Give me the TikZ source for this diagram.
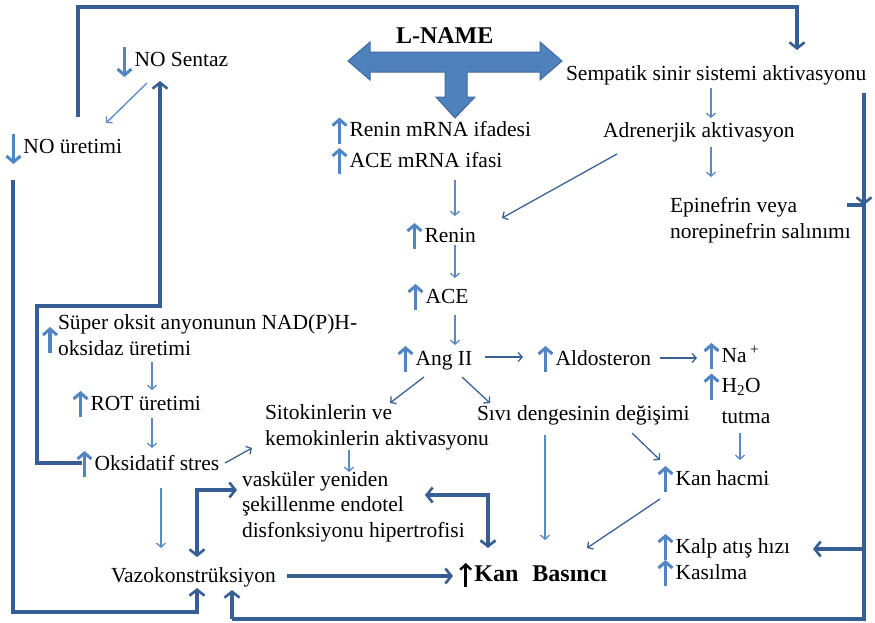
\documentclass[tikz,border=0pt]{standalone}
\usepackage{fontspec}
\setmainfont{Liberation Serif}
\usetikzlibrary{arrows.meta}
\definecolor{thk}{RGB}{55,94,146}
\definecolor{thl}{RGB}{88,138,198}
\definecolor{thd}{RGB}{58,98,150}
\definecolor{upc}{RGB}{80,132,195}
\definecolor{lnf}{RGB}{79,129,189}
\definecolor{lnd}{RGB}{62,106,160}
\newcommand\ua{\tikz[baseline=0pt,x=1pt,y=1pt]\draw[upc,line width=3.4pt,-{Straight Barb[length=6pt,width=14pt,line width=3pt]}](0,-7)--(0,19);\kern1.5pt}
\newcommand\da{\tikz[baseline=0pt,x=1pt,y=1pt]\draw[upc,line width=3.4pt,-{Straight Barb[length=6pt,width=14pt,line width=3pt]}](0,19)--(0,-11);\kern1.5pt}
\newcommand\uk{\tikz[baseline=0pt,x=1pt,y=1pt]\draw[black,line width=2.8pt,-{Straight Barb[length=5pt,width=11pt,line width=2.4pt]}](0,-6)--(0,18);\kern2pt}
\begin{document}
\begin{tikzpicture}[x=1pt,y=-1pt,
  tx/.style={font=\fontsize{21.5}{25.5}\selectfont, inner sep=0pt, outer sep=0pt, align=left, anchor=base west},
  ta/.style={thl, line width=1.3pt, -{Straight Barb[length=4pt,width=9pt]}},
  tb/.style={thd, line width=1.3pt, -{Straight Barb[length=4pt,width=9pt]}},
  tk/.style={thk, line width=3.2pt, -{Straight Barb[length=6pt,width=15pt,line width=2.6pt]}},
  tkl/.style={thk, line width=3.2pt},
  tkd/.style={thk, line width=3.2pt, {Straight Barb[length=6pt,width=15pt,line width=2.6pt]}-{Straight Barb[length=6pt,width=15pt,line width=2.6pt]}}]
\useasboundingbox (0,0) rectangle (875,622);

% L-NAME arrow
\filldraw[fill=lnf, draw=lnd, line width=1pt, line join=miter]
  (348,61) -- (370,42) -- (370,52) -- (540,52) -- (540,42) -- (562,61) -- (540,80) -- (540,72)
  -- (467,72) -- (467,97) -- (475,97) -- (455,118) -- (436,97) -- (445,97) -- (445,72)
  -- (370,72) -- (370,80) -- cycle;
\node[tx, font=\bfseries\fontsize{24}{28}\selectfont] (lname) at (396,43) {L-NAME};

% nodes (base = baseline of last line)
\node[tx] (nosen) at (116,66) {\da NO Sentaz};
\node[tx] (noure) at (5,153) {\da NO üretimi};
\node[tx] (semp) at (566,80) {Sempatik sinir sistemi aktivasyonu};
\node[tx] (adr) at (603,137) {Adrenerjik aktivasyon};
\node[tx] (epi) at (670,238) {Epinefrin veya\\norepinefrin salınımı};
\node[tx] (rmrna) at (331,167) {\ua Renin mRNA ifadesi\\\ua ACE mRNA ifasi};
\node[tx] (renin) at (406,242) {\ua Renin};
\node[tx] (ace) at (407,303) {\ua ACE};
\node[tx] (ang) at (397,365) {\ua Ang II};
\node[tx] (aldo) at (537,365) {\ua Aldosteron};
\node[tx] (na) at (703,362) {\ua Na\,\textsuperscript{+}};
\node[tx] (h2o) at (703,423) {\ua H\textsubscript{2}O\\\phantom{\ua}tutma};
\node[tx] (sivi) at (477,420) {Sıvı dengesinin değişimi};
\node[tx] (sito) at (265,445) {Sitokinlerin ve\\kemokinlerin aktivasyonu};
\node[tx] (kanh) at (657,485) {\ua Kan hacmi};
\node[tx] (vask) at (242,537) {vasküler yeniden\\şekillenme endotel\\disfonksiyonu hipertrofisi};
\node[tx] (vazo) at (111,582) {Vazokonstrüksiyon};
\node[tx, font=\bfseries\fontsize{24}{28}\selectfont] (kanb) at (459,581) {\uk Kan\hspace{14pt}Basıncı};
\node[tx] (kalp) at (657,553) {\ua Kalp atış hızı};
\node[tx] (kas) at (657,579) {\ua Kasılma};
\node[tx] (super) at (58,355) {Süper oksit anyonunun NAD(P)H-\\oksidaz üretimi};
\draw[upc,line width=3.4pt,-{Straight Barb[length=6pt,width=14pt,line width=3pt]}] (50,353) -- (50,327);
\node[tx] (rot) at (72,410) {\ua ROT üretimi};
\node[tx] (oks) at (76,470) {\ua Oksidatif stres};

% thick frame connectors
\draw[tk] (78,117) -- (78,7) -- (797,7) -- (797,50);
\draw[tk] (13,180) -- (13,612) -- (197,612) -- (197,588);
\draw[tk] (864,93) -- (864,205);
\draw[tkl] (847,205) -- (864,205) -- (864,619) -- (232,619);
\draw[tk] (232,619) -- (232,590);
\draw[tk] (864,549) -- (813,549);
\draw[tk] (82,463) -- (37,463) -- (37,306) -- (160,306) -- (160,81);
\draw[tk] (287,576) -- (453,576);
\draw[tkd] (237,490) -- (197,490) -- (197,557);
\draw[tkd] (425,495) -- (488,495) -- (488,548);

% thin arrows
\draw[ta] (147,83) -- (106,123);
\draw[ta] (711,88) -- (711,118);
\draw[ta] (711,147) -- (711,177);
\draw[tb] (617,154) -- (502,218);
\draw[ta] (455,180) -- (455,216);
\draw[ta] (455,245) -- (455,278);
\draw[ta] (455,315) -- (455,345);
\draw[tb] (485,357) -- (523,357);
\draw[tb] (660,358) -- (697,358);
\draw[tb] (424,377) -- (390,403);
\draw[tb] (462,377) -- (490,403);
\draw[ta] (740,433) -- (740,460);
\draw[tb] (632,433) -- (660,460);
\draw[ta] (349,450) -- (349,472);
\draw[ta] (545,435) -- (545,540);
\draw[tb] (660,499) -- (587,548);
\draw[ta] (152,362) -- (152,390);
\draw[ta] (152,418) -- (152,448);
\draw[tb] (225,463) -- (252,448);
\draw[ta] (161,488) -- (161,548);
\end{tikzpicture}
\end{document}
